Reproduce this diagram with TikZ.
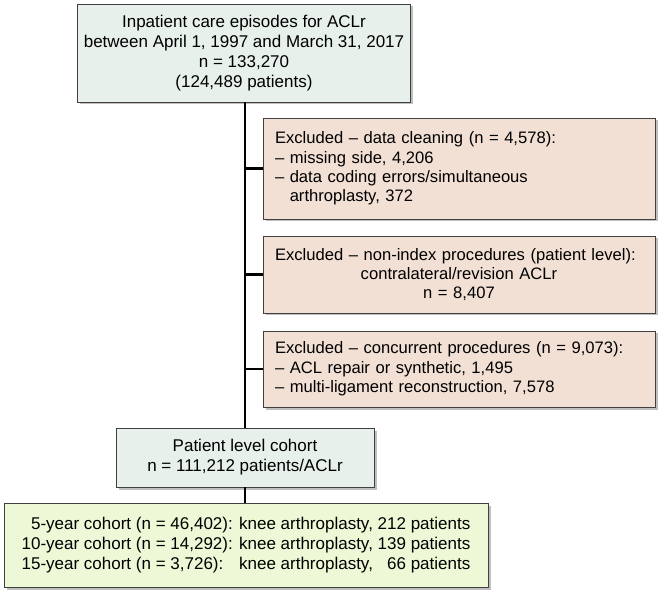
\documentclass[tikz,border=0pt]{standalone}
\usepackage{fontspec}
\setmainfont{Liberation Sans}
\usepackage{array}
\usetikzlibrary{shadows}

\definecolor{boxgreen}{HTML}{E8F0EB}
\definecolor{boxpeach}{HTML}{F2E0D5}
\definecolor{boxlime}{HTML}{EDF8D6}

\begin{document}
\begin{tikzpicture}[x=1pt,y=-1pt,
    box/.style={draw=black!75,line width=0.8pt,inner sep=0pt,
      drop shadow={shadow xshift=2.5pt,shadow yshift=-2.5pt,opacity=0.5},
      font=\fontsize{17}{20}\selectfont},
    exclbox/.style={box,fill=boxpeach,minimum width=392pt,text width=368pt,
      align=left,font=\fontsize{16.6}{19.3}\selectfont},
    trunk/.style={line width=2.2pt}]
  \useasboundingbox (0,0) rectangle (669,601);
  \node[box,fill=boxgreen,minimum width=333pt,minimum height=98pt,align=center] (top) at (244,53)
    {Inpatient care episodes for ACLr\\between April 1, 1997 and March 31, 2017\\n = 133,270\\(124,489 patients)};
  \node[exclbox,minimum height=101pt] (ex1) at (459,168.5)
    {Excluded -- data cleaning (n = 4,578):\\-- missing side, 4,206\\-- data coding errors/simultaneous\\\phantom{-- }arthroplasty, 372};
  \node[exclbox,minimum height=77pt,align=center] (ex2) at (459,274.5)
    {\makebox[368pt][l]{Excluded -- non-index procedures (patient level):}\\contralateral/revision ACLr\\n = 8,407};
  \node[exclbox,minimum height=76pt] (ex3) at (459,369)
    {Excluded -- concurrent procedures (n = 9,073):\\-- ACL repair or synthetic, 1,495\\-- multi-ligament reconstruction, 7,578};
  \node[box,fill=boxgreen,minimum width=258pt,minimum height=59pt,align=center] (pat) at (245,457.5)
    {Patient level cohort\\n = 111,212 patients/ACLr};
  \node[box,fill=boxlime,minimum width=484pt,minimum height=84pt] (coh) at (246,545)
    {\begin{tabular}{@{}l@{ }l@{ }r@{}}
      \phantom{1}5-year cohort (n = 46,402): & knee arthroplasty, & 212 patients\\
      10-year cohort (n = 14,292): & knee arthroplasty, & 139 patients\\
      15-year cohort (n = 3,726): & knee arthroplasty, & 66 patients
    \end{tabular}};
  % flow lines
  \draw[trunk] (top.south -| pat.north) -- (pat.north);
  \foreach \e in {ex1,ex2,ex3}
    \draw[trunk] (\e.west -| pat.north) -- (\e.west);
  \draw[trunk] (pat.south) -- (pat.south |- coh.north);
\end{tikzpicture}
\end{document}
